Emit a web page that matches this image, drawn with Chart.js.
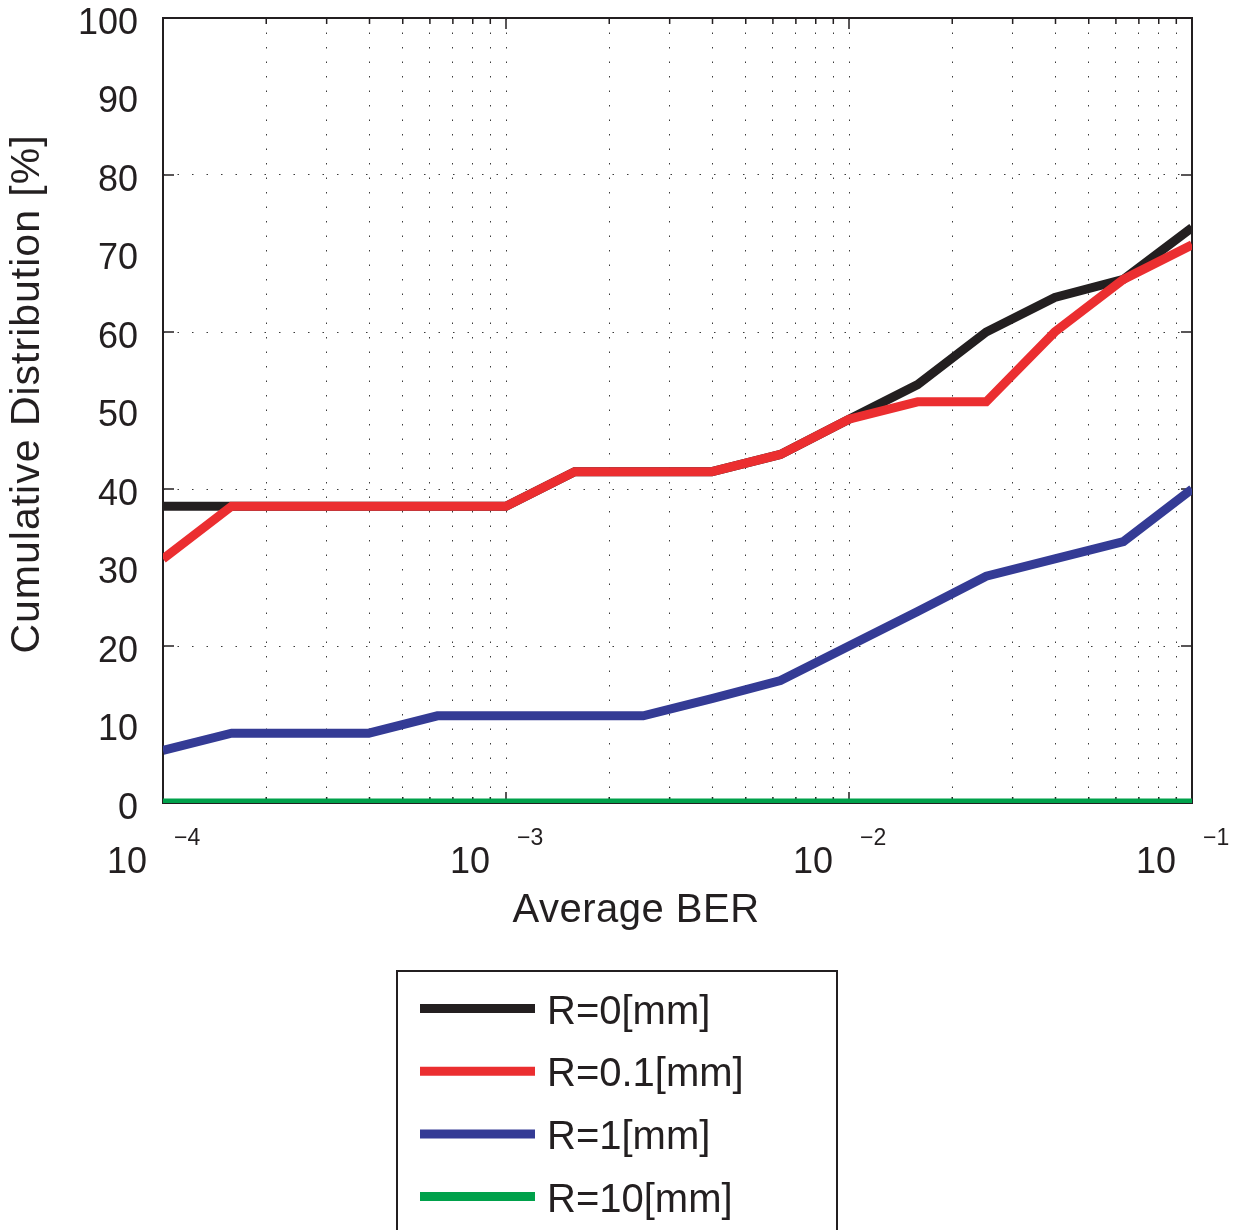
<!DOCTYPE html>
<html>
<head>
<meta charset="utf-8">
<script src="https://cdn.jsdelivr.net/npm/chart.js@4.4.1/dist/chart.umd.min.js"></script>
<style>
  html, body { margin: 0; padding: 0; background: #ffffff; }
  #wrap { width: 1242px; height: 1230px; position: relative; }
</style>
</head>
<body>
<div id="wrap"><canvas id="cdf"></canvas></div>
<script>
// Average BER sample points, 0.2-decade steps from 1e-4 to 1e-1
const berValues = [1.0e-4, 1.585e-4, 2.512e-4, 3.981e-4, 6.310e-4,
                   1.0e-3, 1.585e-3, 2.512e-3, 3.981e-3, 6.310e-3,
                   1.0e-2, 1.585e-2, 2.512e-2, 3.981e-2, 6.310e-2, 1.0e-1];

// Cumulative distribution [%] for each roughness R
const cdfR0  = [37.8, 37.8, 37.8, 37.8, 37.8, 37.8, 42.2, 42.2, 42.2, 44.4, 48.9, 53.3, 60.0, 64.4, 66.7, 73.3];
const cdfR01 = [31.1, 37.8, 37.8, 37.8, 37.8, 37.8, 42.2, 42.2, 42.2, 44.4, 48.9, 51.1, 51.1, 60.0, 66.7, 71.1];
const cdfR1  = [6.7, 8.9, 8.9, 8.9, 11.1, 11.1, 11.1, 11.1, 13.3, 15.6, 20.0, 24.4, 28.9, 31.1, 33.3, 40.0];
const cdfR10 = [0, 0, 0, 0, 0, 0, 0, 0, 0, 0, 0, 0, 0, 0, 0, 0];

const seriesLabels = ['R=0[mm]', 'R=0.1[mm]', 'R=1[mm]', 'R=10[mm]'];
const seriesColors = ['#231f20', '#eb2e30', '#343b95', '#00a14b'];

// Axis ticks
const yTickValues = [0, 10, 20, 30, 40, 50, 60, 70, 80, 90, 100];
const yGridValues = [20, 40, 60, 80];
const yMarkValues = [0, 20, 40, 60, 80, 100];
const xGridValues = [1e-4, 2e-4, 3e-4, 4e-4, 5e-4, 6e-4, 7e-4, 8e-4, 9e-4,
                     1e-3, 2e-3, 3e-3, 4e-3, 5e-3, 6e-3, 7e-3, 8e-3, 9e-3,
                     1e-2, 2e-2, 3e-2, 4e-2, 5e-2, 6e-2, 7e-2, 8e-2, 9e-2, 1e-1];
const xDecades = [1e-4, 1e-3, 1e-2, 1e-1];
const xDecadeBase = '10';
const xExponents = ['\u22124', '\u22123', '\u22122', '\u22121'];

const xTitle = 'Average BER';
const yTitle = 'Cumulative Distribution [%]';

const FONT = "'Liberation Sans', Arial, Helvetica, sans-serif";
const INK = '#231f20';

const isDecade = v => Math.abs(Math.log10(v) - Math.round(Math.log10(v))) < 1e-9;

// Keep the plot box fixed: no automatic padding from tick labels
const noAutoPad = s => { s.paddingTop = 0; s.paddingBottom = 0; s.paddingLeft = 0; s.paddingRight = 0; };

// Box, inward tick marks, exponents, axis titles and legend
const framePlugin = {
  id: 'frame',
  beforeDatasetsDraw(chart) {
    const { ctx, chartArea: a, scales: { x, y } } = chart;
    ctx.save();
    ctx.strokeStyle = INK;
    ctx.lineWidth = 2;
    ctx.strokeRect(a.left, a.top, a.right - a.left, a.bottom - a.top);
    ctx.lineWidth = 1.5;
    ctx.beginPath();
    yMarkValues.forEach(v => {
      const py = y.getPixelForValue(v);
      ctx.moveTo(a.left, py); ctx.lineTo(a.left + 11, py);
      ctx.moveTo(a.right, py); ctx.lineTo(a.right - 11, py);
    });
    xGridValues.forEach(v => {
      const px = x.getPixelForValue(v);
      const len = isDecade(v) ? 11 : 6;
      ctx.moveTo(px, a.bottom); ctx.lineTo(px, a.bottom - len);
      ctx.moveTo(px, a.top); ctx.lineTo(px, a.top + len);
    });
    ctx.stroke();
    ctx.restore();
  },
  afterDraw(chart) {
    const { ctx, scales: { x } } = chart;
    ctx.save();
    ctx.fillStyle = INK;

    // decade exponents
    ctx.font = `23px ${FONT}`;
    ctx.textAlign = 'left';
    ctx.textBaseline = 'alphabetic';
    xDecades.forEach((v, i) => {
      ctx.fillText(xExponents[i], x.getPixelForValue(v) + 11, 845);
    });

    // axis titles
    ctx.textAlign = 'center';
    ctx.textBaseline = 'middle';
    ctx.font = `40px ${FONT}`;
    ctx.letterSpacing = '0.5px';
    ctx.fillText(xTitle, 636, 911);
    ctx.save();
    ctx.translate(28, 394);
    ctx.rotate(-Math.PI / 2);
    ctx.font = `41px ${FONT}`;
    ctx.letterSpacing = '1px';
    ctx.fillText(yTitle, 0, 0);
    ctx.restore();
    ctx.letterSpacing = '0px';

    // legend
    ctx.strokeStyle = INK;
    ctx.lineWidth = 2;
    ctx.strokeRect(397, 971, 440, 300);
    ctx.font = `40px ${FONT}`;
    ctx.textAlign = 'left';
    ctx.textBaseline = 'middle';
    chart.data.datasets.forEach((ds, i) => {
      const ly = 1008.5 + i * 62.7;
      ctx.strokeStyle = ds.borderColor;
      ctx.lineWidth = 9;
      ctx.lineCap = 'butt';
      ctx.beginPath();
      ctx.moveTo(420, ly); ctx.lineTo(535, ly);
      ctx.stroke();
      ctx.fillStyle = INK;
      ctx.fillText(ds.label, 547, ly + 4);
    });
    ctx.restore();
  }
};

const toPoints = arr => berValues.map((b, i) => ({ x: b, y: arr[i] }));

new Chart(document.getElementById('cdf'), {
  type: 'line',
  data: {
    datasets: [
      { label: seriesLabels[0], data: toPoints(cdfR0),  borderColor: seriesColors[0], backgroundColor: seriesColors[0], order: 2 },
      { label: seriesLabels[1], data: toPoints(cdfR01), borderColor: seriesColors[1], backgroundColor: seriesColors[1], order: 1 },
      { label: seriesLabels[2], data: toPoints(cdfR1),  borderColor: seriesColors[2], backgroundColor: seriesColors[2], order: 3 },
      { label: seriesLabels[3], data: toPoints(cdfR10), borderColor: seriesColors[3], backgroundColor: seriesColors[3], order: 0 }
    ]
  },
  options: {
    responsive: true,
    maintainAspectRatio: false,
    animation: false,
    events: [],
    layout: { autoPadding: false, padding: { left: 0, top: 18, right: 50, bottom: 277 } },
    elements: {
      point: { radius: 0, hoverRadius: 0 },
      line: { borderWidth: 9, borderJoinStyle: 'miter', borderCapStyle: 'butt', tension: 0, fill: false }
    },
    plugins: { legend: { display: false }, tooltip: { enabled: false } },
    scales: {
      x: {
        type: 'logarithmic',
        min: 1e-4,
        max: 1e-1,
        afterFit: s => { s.height = 150; noAutoPad(s); },
        afterBuildTicks: s => { s.ticks = xGridValues.map(v => ({ value: v, major: isDecade(v) })); },
        border: { display: false, dash: [1.5, 13] },
        grid: {
          drawTicks: false,
          lineWidth: 1,
          color: c => (c.tick && (c.tick.value <= 1e-4 * 1.0001 || c.tick.value >= 1e-1 * 0.9999)) ? 'rgba(0,0,0,0)' : '#3a3a3a'
        },
        ticks: {
          autoSkip: false,
          maxRotation: 0,
          minRotation: 0,
          padding: 38,
          labelOffset: -36,
          color: INK,
          font: { family: FONT, size: 36 },
          callback: v => isDecade(v) ? xDecadeBase : ''
        }
      },
      y: {
        min: 0,
        max: 100,
        afterFit: s => { s.width = 163; noAutoPad(s); },
        afterBuildTicks: s => { s.ticks = yTickValues.map(v => ({ value: v })); },
        border: { display: false, dash: [1.5, 13] },
        grid: {
          drawTicks: false,
          lineWidth: 1,
          color: c => (c.tick && yGridValues.includes(c.tick.value)) ? '#3a3a3a' : 'rgba(0,0,0,0)'
        },
        ticks: {
          autoSkip: false,
          padding: 25,
          labelOffset: 6,
          color: INK,
          font: { family: FONT, size: 36 },
          callback: v => String(v)
        }
      }
    }
  },
  plugins: [framePlugin]
});
</script>
</body>
</html>
